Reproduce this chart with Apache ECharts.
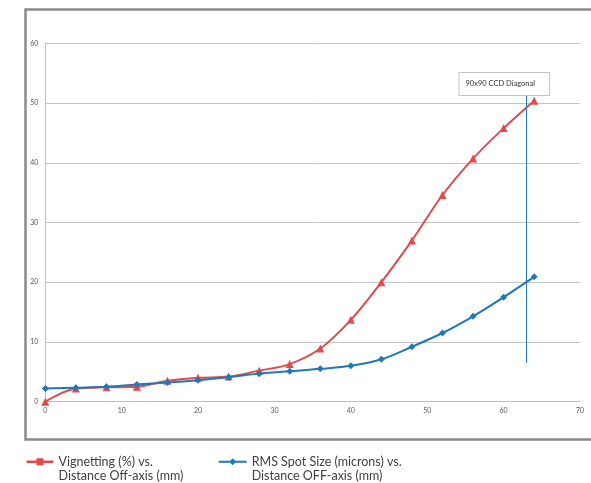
<!DOCTYPE html>
<html>
<head>
<meta charset="utf-8">
<script src="https://cdn.jsdelivr.net/npm/echarts@6/dist/echarts.min.js"></script>
<style>
html,body{margin:0;padding:0;background:#fff;}
#chart{width:591px;height:483px;}
</style>
</head>
<body>
<div id="chart"></div>
<script>
const distances = [0, 4, 8, 12, 16, 20, 24, 28, 32, 36, 40, 44, 48, 52, 56, 60, 64];
const vignetting = [0, 2.2, 2.4, 2.5, 3.5, 4.0, 4.2, 5.2, 6.3, 8.9, 13.7, 20.0, 27.0, 34.6, 40.7, 45.8, 50.4];
const rmsSpot = [2.2, 2.35, 2.5, 2.9, 3.2, 3.6, 4.1, 4.7, 5.1, 5.5, 6.0, 7.1, 9.2, 11.5, 14.3, 17.5, 20.9];
const ccdX = 62.9;
const ccdRange = [6.5, 51.5];
const ccdLabel = '90x90 CCD Diagonal';
const nameVig = 'Vignetting (%) vs.\nDistance Off-axis (mm)';
const nameRms = 'RMS Spot Size (microns) vs.\nDistance OFF-axis (mm)';

const red = '#E24A4C';
const blue = '#1F78B8';
const font = 'Lato';

const chart = echarts.init(document.getElementById('chart'), null, {renderer: 'canvas'});
const legendText = {fontFamily: font, fontSize: 12.5, color: '#404040', lineHeight: 14.5};
chart.setOption({
  animation: false,
  backgroundColor: '#fff',
  textStyle: {fontFamily: font},
  graphic: [{
    type: 'rect',
    shape: {x: 25.5, y: 9.5, width: 640, height: 430},
    style: {fill: 'none', stroke: '#8a8a8a', lineWidth: 2.5},
    silent: true
  }],
  grid: {left: 45.3, right: 11, top: 43.3, bottom: 81.3, containLabel: false},
  legend: [{
    left: 26.5, top: 440, padding: 0, itemWidth: 27, itemHeight: 8,
    data: [{name: nameVig, icon: 'path://M0,2.8H27V5.2H0Z M10,0.5H17V7.5H10Z'}],
    formatter: n => '\n' + n,
    textStyle: legendText, selectedMode: false
  }, {
    left: 218.7, top: 440, padding: 0, itemWidth: 28, itemHeight: 8,
    data: [{name: nameRms, icon: 'path://M0,3H28V5H0Z M14,0.5L17.5,4L14,7.5L10.5,4Z'}],
    formatter: n => '\n' + n,
    textStyle: legendText, selectedMode: false
  }],
  xAxis: {
    type: 'value', min: 0, max: 70, interval: 10,
    axisLine: {show: true, onZero: false, lineStyle: {color: '#BFBFBF', width: 1}},
    axisTick: {show: false},
    splitLine: {show: false},
    axisLabel: {fontSize: 7, color: '#595959', margin: 6, fontFamily: font}
  },
  yAxis: {
    type: 'value', min: 0, max: 60, interval: 10,
    axisLine: {show: true, lineStyle: {color: '#BFBFBF', width: 1}},
    axisTick: {show: false},
    splitLine: {show: true, lineStyle: {color: '#C4C4C4', width: 1}},
    axisLabel: {fontSize: 7, color: '#595959', margin: 7, fontFamily: font}
  },
  series: [{
    name: nameVig,
    type: 'line',
    data: distances.map((d, i) => [d, vignetting[i]]),
    smooth: 0.35,
    symbol: 'triangle', symbolSize: 8,
    lineStyle: {color: red, width: 2},
    itemStyle: {color: red},
    z: 3
  }, {
    name: nameRms,
    type: 'line',
    data: distances.map((d, i) => [d, rmsSpot[i]]),
    smooth: 0.35,
    symbol: 'diamond', symbolSize: 7,
    lineStyle: {color: blue, width: 2},
    itemStyle: {color: blue},
    z: 4,
    markLine: {
      silent: true,
      symbol: ['none', 'none'],
      lineStyle: {color: blue, width: 1, type: 'solid'},
      label: {
        show: true, position: 'end', distance: 0,
        formatter: ccdLabel,
        offset: [-21.5, 1],
        fontFamily: font, fontSize: 7.5, color: '#333',
        backgroundColor: '#fff', borderColor: '#C4C4C4', borderWidth: 1,
        padding: [7, 14, 7, 6]
      },
      data: [[{coord: [ccdX, ccdRange[0]]}, {coord: [ccdX, ccdRange[1]]}]]
    }
  }]
});
</script>
</body>
</html>
